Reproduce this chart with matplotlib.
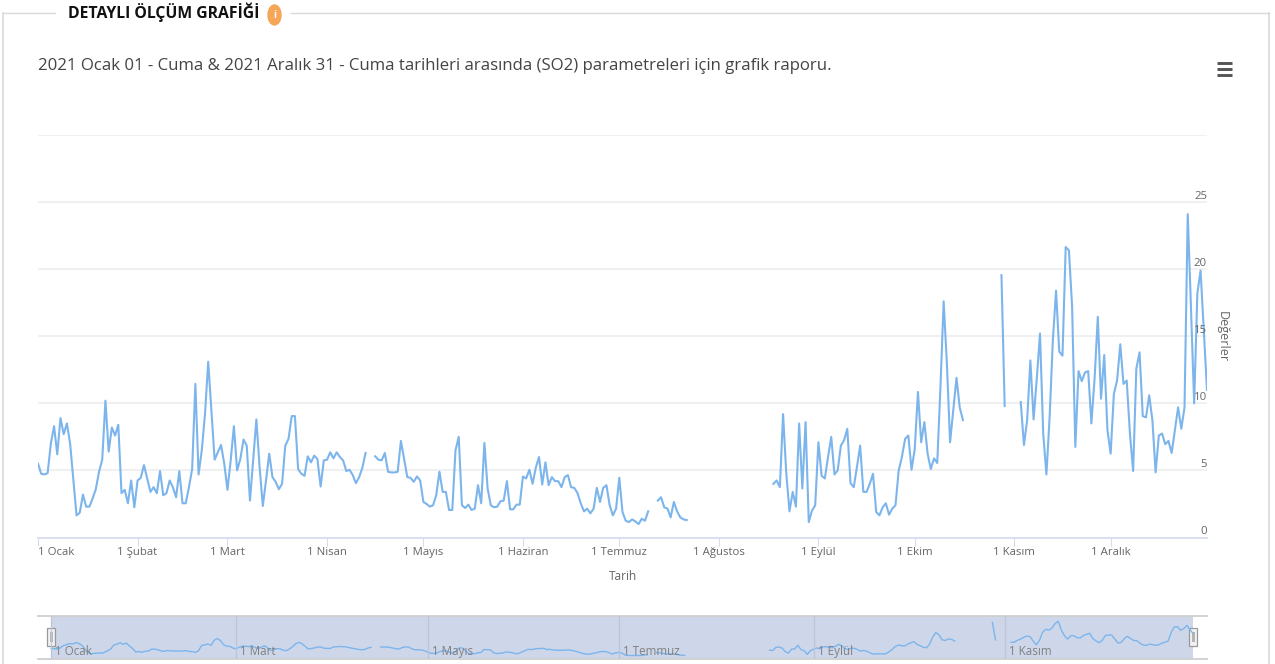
import numpy as np
import pandas as pd
import matplotlib
matplotlib.use('Agg')
import matplotlib.pyplot as plt
from matplotlib.patches import Ellipse, Rectangle

plt.rcParams['font.family'] = ['Open Sans', 'DejaVu Sans']

# 1. data : gunluk SO2 degerleri, kesik kesik segmentler (baslangic gunu, degerler)
start_1 = 0
so2_1 = [5.5, 4.75, 4.7, 4.8, 7.0, 8.3, 6.2, 8.9, 7.7, 8.5, 7.0, 4.3, 1.65, 1.85, 3.2, 2.3, 2.3, 2.9, 3.6, 4.9,
         5.8, 10.2, 6.4, 8.2, 7.6, 8.4, 3.3, 3.55, 2.55, 4.25, 2.25,
         4.25, 4.45, 5.4, 4.4, 3.4, 3.75, 3.3, 4.95, 3.15, 3.3, 4.25, 3.75, 3.0, 4.95, 2.55, 2.55, 3.75, 5.1, 11.45,
         4.7, 6.5, 9.2, 13.1, 9.5, 5.8, 6.35, 6.9, 5.5, 3.55, 5.75, 8.3, 5.0, 5.85, 7.3, 6.85, 2.75, 5.75, 8.8, 5.25,
         2.35, 4.25, 6.25, 4.5, 4.15, 3.6, 4.0, 6.85, 7.35, 9.05, 9.05, 5.1, 4.75, 4.6, 6.05, 5.6, 6.1, 5.85, 3.8, 5.75,
         5.8, 6.35, 5.9, 6.35, 6.0, 5.75, 4.95, 5.05, 4.65, 4.05, 4.5, 5.2, 6.3]
start_2 = 105
so2_2 = [6.05, 5.8, 5.75, 6.3, 4.9, 4.85, 4.85, 4.9, 7.2, 5.85, 4.5, 4.45, 4.15, 4.55, 4.25, 2.65, 2.5, 2.3, 2.4, 3.15,
         4.9, 3.4, 3.4, 2.05, 2.05, 6.5, 7.5, 2.4, 2.2, 2.45, 2.05, 2.15, 3.9, 2.55, 7.05, 3.65, 2.4, 2.25, 2.3, 2.7,
         2.75, 4.2, 2.1, 2.1, 2.45, 2.45, 4.55, 4.4, 5.05, 4.0, 5.2, 6.0, 3.95, 5.6, 3.9, 4.5, 4.2, 4.2, 3.75, 4.5,
         4.65, 3.75, 3.7, 3.3, 2.55, 1.95, 2.15, 1.8, 2.15, 3.7, 2.65, 3.7, 3.9, 2.4, 1.65, 2.15, 4.45, 1.9, 1.25, 1.15,
         1.35, 1.2, 1.0, 1.4, 1.25, 1.95]
start_3 = 193
so2_3 = [2.75, 3.0, 2.25, 2.15, 1.5, 2.65, 1.95, 1.5, 1.35, 1.3]
start_4 = 229
so2_4 = [4.0, 4.25, 3.75, 9.2, 4.75, 1.95, 3.4, 2.3, 8.5, 3.65, 8.6, 1.15, 2.0, 2.4, 7.1, 4.6, 4.4, 6.0, 7.5, 4.7,
         5.0, 6.85, 7.25, 8.1, 4.05, 3.75, 5.25, 6.85, 3.4, 3.4, 4.0, 4.75, 1.9, 1.65, 2.25, 2.55, 1.7, 2.15, 2.4, 5.0,
         6.0, 7.35, 7.6, 5.05, 6.6, 10.85, 7.1, 8.6, 6.25, 5.1, 5.9, 5.55, 11.2, 17.6, 13.0, 7.1, 9.5, 11.9, 9.7, 8.75]
start_5 = 300
so2_5 = [19.55, 9.8]
start_6 = 306
so2_6 = [10.1, 6.9, 8.75, 13.2, 8.8, 11.85, 15.2, 7.75, 4.7, 9.0, 14.7, 18.4, 13.85, 13.55, 21.65, 21.4, 17.2, 6.75, 12.4, 11.65,
         12.3, 12.4, 8.5, 11.85, 16.45, 10.35, 13.6, 8.0, 6.25, 10.7, 11.7, 14.4, 11.45, 11.7, 7.75, 4.95, 12.6, 13.8, 9.05, 8.95,
         10.6, 8.75, 4.85, 7.6, 7.75, 6.95, 7.2, 6.3, 8.0, 9.7, 8.1, 9.7, 24.1, 17.2, 10.0, 18.2, 19.9, 15.45, 11.0]

month_days = [0, 31, 59, 90, 120, 151, 181, 212, 243, 273, 304, 334]
month_labels = ['1 Ocak', '1 Şubat', '1 Mart', '1 Nisan', '1 Mayıs', '1 Haziran', '1 Temmuz',
                '1 Ağustos', '1 Eylül', '1 Ekim', '1 Kasım', '1 Aralık']
y_ticks = [0, 5, 10, 15, 20, 25, 30]
y_labels = ['0', '5', '10', '15', '20', '25']

# 2. segmentleri tek seride birlestir, aradaki gunler bos kalir
so2 = pd.Series(np.nan, index=range(365))
for start, vals in [(start_1, so2_1), (start_2, so2_2), (start_3, so2_3),
                    (start_4, so2_4), (start_5, so2_5), (start_6, so2_6)]:
    so2.iloc[start:start + len(vals)] = vals
# navigator cizgisi daha yumusak
so2_nav = so2.rolling(3, center=True, min_periods=1).mean().where(so2.notna())
so2_nav.iloc[start_5:start_5 + len(so2_5)] = so2_5  # iki noktalik parca duz kalmasin

W, H = 1275, 664
LINE = '#7cb5ec'
fig = plt.figure(figsize=(W / 100, H / 100), dpi=100, facecolor='white')


def px_axes(left, top, right, bottom):
    return fig.add_axes([left / W, 1 - bottom / H, (right - left) / W, (bottom - top) / H])


# 3. sayfa katmani : cerceve, basliklar, ikon (piksel koordinat)
bg = fig.add_axes([0, 0, 1, 1])
bg.set_xlim(0, W)
bg.set_ylim(H, 0)
bg.axis('off')
bg.plot([3, 3], [13, H], color='#d9d9d9', lw=1.2)
bg.plot([1269, 1269], [13, H], color='#d9d9d9', lw=1.2)
bg.plot([3, 55], [13, 13], color='#d9d9d9', lw=1.0)
bg.plot([291, 1269], [13, 13], color='#d9d9d9', lw=1.0)
bg.text(68, 12, 'DETAYLI ÖLÇÜM GRAFİĞİ', fontsize=11.3, fontweight='bold', color='#111111', va='center')
bg.add_patch(Ellipse((274.5, 15), 13, 20, color='#f5a656'))
bg.text(274.5, 15, 'i', fontsize=7, fontweight='bold', color='white', ha='center', va='center')
bg.text(38, 65.5, '2021 Ocak 01 - Cuma & 2021 Aralık 31 - Cuma tarihleri arasında (SO2) parametreleri için grafik raporu.',
        fontsize=12.05, color='#444444', va='center')
for yy in [63, 69, 75]:
    bg.plot([1216.5, 1232], [yy, yy], color='#555555', lw=2.1, solid_capstyle='butt')
bg.text(623, 576, 'Tarih', fontsize=8.6, color='#666666', ha='center', va='center')
bg.text(1222, 337, 'Değerler', fontsize=9, color='#666666', rotation=270, ha='center', va='center')

# 4. ana grafik
ax = px_axes(38, 135, 1207, 537.5)
ax.patch.set_alpha(0)
ax.plot(so2.index, so2.values, color=LINE, lw=1.5)
ax.set_xlim(0, 364)
ax.set_ylim(0, 30)
ax.set_yticks(y_ticks)
ax.set_yticklabels([])
ax.grid(axis='y', color='#ececec', lw=1.1)
ax.set_axisbelow(True)
for s in ['top', 'left', 'right']:
    ax.spines[s].set_visible(False)
ax.spines['bottom'].set_color('#d5dcee')
ax.spines['bottom'].set_linewidth(1.2)
ax.tick_params(axis='y', length=0)
ax.set_xticks(month_days)
ax.set_xticklabels(month_labels, fontsize=8.2, color='#666666', va='baseline')
ax.get_xticklabels()[0].set_horizontalalignment('left')
ax.tick_params(axis='x', length=6, width=0.8, color='#d5dcee', pad=6.6)
for v, lab in zip(y_ticks, y_labels):
    ax.annotate(lab, (1, v), xycoords=('axes fraction', 'data'), xytext=(0, 4), textcoords='offset points',
                ha='right', va='center', fontsize=8.2, color='#666666')

# 5. navigator
nav = px_axes(38, 616, 1207, 659)
nav.set_xlim(-4.14, 368.4)
nav.set_ylim(-0.7, 23)
nav.axvspan(0, 364, color='#ced7ea', lw=0)
nav.plot(so2_nav.index, so2_nav.values, color=LINE, lw=1.0)
nav.set_xticks(month_days[::2])
nav.set_xticklabels([])
nav.set_yticks([])
nav.tick_params(axis='x', length=0)
nav.grid(axis='x', color='#bcc5da', lw=0.9)
nav.set_axisbelow(False)
for s in ['left', 'right']:
    nav.spines[s].set_visible(False)
for s in ['top', 'bottom']:
    nav.spines[s].set_color('#cfcfcf')
    nav.spines[s].set_linewidth(1.3)
for d, lab in zip(month_days[::2], month_labels[::2]):
    nav.annotate(lab, (d, 0), xycoords=('data', 'axes fraction'), xytext=(3, 0.5), textcoords='offset points',
                 fontsize=8.4, color='#808080', ha='left', va='bottom', clip_on=True)

# kaydirma tutamaclari
for hx in [47, 1189]:
    nav.add_patch(Rectangle((hx, 628), 8, 18, transform=bg.transData, facecolor='#f2f2f2',
                            edgecolor='#999999', lw=0.9, clip_on=False))
    nav.add_patch(Rectangle((hx + 2.5, 632), 3, 10, transform=bg.transData, facecolor='#b5b5b5',
                            edgecolor='none', clip_on=False))

fig.savefig('out.png', dpi=100)
